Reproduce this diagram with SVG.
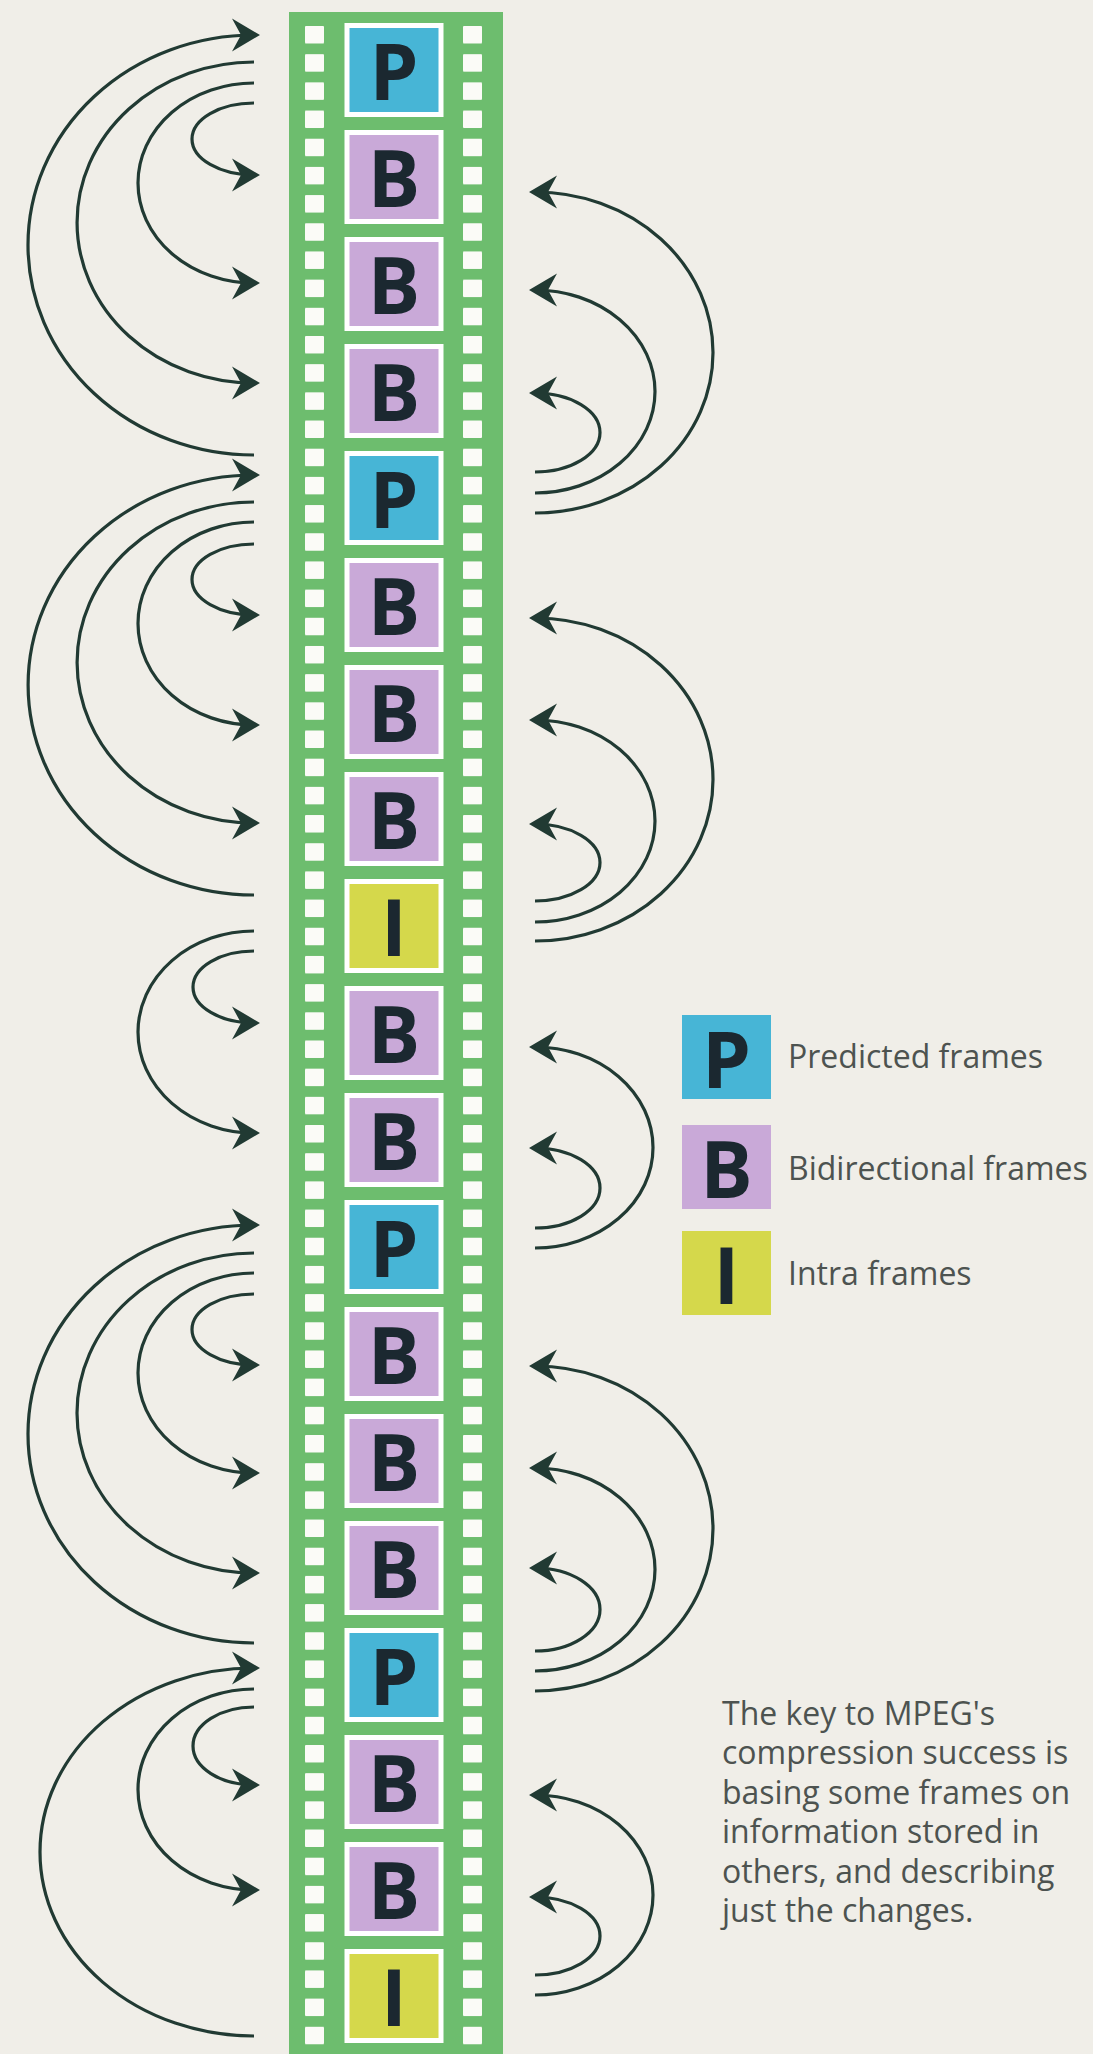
<svg xmlns="http://www.w3.org/2000/svg" width="1093" height="2054" viewBox="0 0 1093 2054">
<style>
.fr{stroke:#ffffff;stroke-width:5}
.p{fill:#47b5d6}
.b{fill:#c9a9d8}
.i{fill:#d5d84b}
.lt{font-family:'Open Sans','Liberation Sans',sans-serif;font-weight:700;font-size:78px;fill:#1b2830;text-anchor:middle}
.lg{font-family:'Open Sans','Liberation Sans',sans-serif;font-size:32px;fill:#4d5350}
.cap{font-family:'Open Sans','Liberation Sans',sans-serif;font-size:32px;fill:#4d5350}
.arc{fill:none;stroke:#213a33;stroke-width:3.2;marker-end:url(#ah)}
</style>
<defs>
<marker id="ah" markerUnits="userSpaceOnUse" markerWidth="40" markerHeight="40" viewBox="-35 -20 40 40" refX="-6" refY="0" orient="auto" overflow="visible">
<path d="M0,0 L-28,-16.5 L-19,0 L-28,16.5 Z" fill="#213a33"/>
</marker>
<pattern id="holes" patternUnits="userSpaceOnUse" x="0" y="26" width="1093" height="28.18">
<rect x="305" y="0" width="19" height="17.5" rx="1" fill="#fbfbf7"/>
<rect x="463" y="0" width="19" height="17.5" rx="1" fill="#fbfbf7"/>
</pattern>
</defs>
<rect x="0" y="0" width="1093" height="2054" fill="#f0eee8"/>
<g id="film-strip">
<rect x="289" y="12" width="214" height="2042" fill="#6dbd6e"/>
<rect x="289" y="26" width="214" height="2028" fill="url(#holes)"/>
</g>
<g id="frame-0"><rect class="fr p" x="347" y="25.5" width="94" height="89"/><text class="lt" x="394" y="100">P</text></g>
<g id="frame-1"><rect class="fr b" x="347" y="132.5" width="94" height="89"/><text class="lt" x="394" y="207">B</text></g>
<g id="frame-2"><rect class="fr b" x="347" y="239.5" width="94" height="89"/><text class="lt" x="394" y="314">B</text></g>
<g id="frame-3"><rect class="fr b" x="347" y="346.5" width="94" height="89"/><text class="lt" x="394" y="421">B</text></g>
<g id="frame-4"><rect class="fr p" x="347" y="453.5" width="94" height="89"/><text class="lt" x="394" y="528">P</text></g>
<g id="frame-5"><rect class="fr b" x="347" y="560.5" width="94" height="89"/><text class="lt" x="394" y="635">B</text></g>
<g id="frame-6"><rect class="fr b" x="347" y="667.5" width="94" height="89"/><text class="lt" x="394" y="742">B</text></g>
<g id="frame-7"><rect class="fr b" x="347" y="774.5" width="94" height="89"/><text class="lt" x="394" y="849">B</text></g>
<g id="frame-8"><rect class="fr i" x="347" y="881.5" width="94" height="89"/><text class="lt" x="394" y="956">I</text></g>
<g id="frame-9"><rect class="fr b" x="347" y="988.5" width="94" height="89"/><text class="lt" x="394" y="1063">B</text></g>
<g id="frame-10"><rect class="fr b" x="347" y="1095.5" width="94" height="89"/><text class="lt" x="394" y="1170">B</text></g>
<g id="frame-11"><rect class="fr p" x="347" y="1202.5" width="94" height="89"/><text class="lt" x="394" y="1277">P</text></g>
<g id="frame-12"><rect class="fr b" x="347" y="1309.5" width="94" height="89"/><text class="lt" x="394" y="1384">B</text></g>
<g id="frame-13"><rect class="fr b" x="347" y="1416.5" width="94" height="89"/><text class="lt" x="394" y="1491">B</text></g>
<g id="frame-14"><rect class="fr b" x="347" y="1523.5" width="94" height="89"/><text class="lt" x="394" y="1598">B</text></g>
<g id="frame-15"><rect class="fr p" x="347" y="1630.5" width="94" height="89"/><text class="lt" x="394" y="1705">P</text></g>
<g id="frame-16"><rect class="fr b" x="347" y="1737.5" width="94" height="89"/><text class="lt" x="394" y="1812">B</text></g>
<g id="frame-17"><rect class="fr b" x="347" y="1844.5" width="94" height="89"/><text class="lt" x="394" y="1919">B</text></g>
<g id="frame-18"><rect class="fr i" x="347" y="1951.5" width="94" height="89"/><text class="lt" x="394" y="2026">I</text></g>
<g id="connectors">
<path class="arc" d="M254,455 A226,210 0 0 1 254,35"/>
<path class="arc" d="M254,62 A177,160.5 0 0 0 254,383"/>
<path class="arc" d="M254,83 A116,100 0 0 0 254,283"/>
<path class="arc" d="M254,103 A62,36 0 0 0 254,175"/>
<path class="arc" d="M254,895 A226,210 0 0 1 254,475"/>
<path class="arc" d="M254,502 A177,160.5 0 0 0 254,823"/>
<path class="arc" d="M254,522 A116,101.5 0 0 0 254,725"/>
<path class="arc" d="M254,544 A62,35.5 0 0 0 254,615"/>
<path class="arc" d="M254,931 A116,101 0 0 0 254,1133"/>
<path class="arc" d="M254,951 A61,36 0 0 0 254,1023"/>
<path class="arc" d="M254,1643 A226,209 0 0 1 254,1225"/>
<path class="arc" d="M254,1253 A177,160 0 0 0 254,1573"/>
<path class="arc" d="M254,1273 A116,100 0 0 0 254,1473"/>
<path class="arc" d="M254,1294 A62,35.5 0 0 0 254,1365"/>
<path class="arc" d="M254,2036 A214,184 0 0 1 254,1668"/>
<path class="arc" d="M254,1689 A116,100.5 0 0 0 254,1890"/>
<path class="arc" d="M254,1707 A61,39 0 0 0 254,1785"/>
<path class="arc" d="M535,513 A178,160.5 0 0 0 535,192"/>
<path class="arc" d="M535,493 A120,101.5 0 0 0 535,290"/>
<path class="arc" d="M535,472 A65,39.5 0 0 0 535,393"/>
<path class="arc" d="M535,941 A178,161.5 0 0 0 535,618"/>
<path class="arc" d="M535,922 A120,101 0 0 0 535,720"/>
<path class="arc" d="M535,901 A65,38.5 0 0 0 535,824"/>
<path class="arc" d="M535,1248 A118,100.5 0 0 0 535,1047"/>
<path class="arc" d="M535,1228 A65,40 0 0 0 535,1148"/>
<path class="arc" d="M535,1691 A178,162.5 0 0 0 535,1366"/>
<path class="arc" d="M535,1671 A120,101.5 0 0 0 535,1468"/>
<path class="arc" d="M535,1651 A65,41.5 0 0 0 535,1568"/>
<path class="arc" d="M535,1995 A118,100 0 0 0 535,1795"/>
<path class="arc" d="M535,1975 A65,39 0 0 0 535,1897"/>
</g>
<g id="legend-p"><rect class="p" x="682" y="1015" width="89" height="84"/><text class="lt" x="726.5" y="1088">P</text><text class="lg" x="788" y="1068">Predicted frames</text></g>
<g id="legend-b"><rect class="b" x="682" y="1125" width="89" height="84"/><text class="lt" x="726.5" y="1198">B</text><text class="lg" x="788" y="1180">Bidirectional frames</text></g>
<g id="legend-i"><rect class="i" x="682" y="1231" width="89" height="84"/><text class="lt" x="726.5" y="1304">I</text><text class="lg" x="788" y="1285">Intra frames</text></g>
<g id="caption">
<text class="cap" x="722" y="1725">The key to MPEG's</text>
<text class="cap" x="722" y="1764.4">compression success is</text>
<text class="cap" x="722" y="1803.8">basing some frames on</text>
<text class="cap" x="722" y="1843.2">information stored in</text>
<text class="cap" x="722" y="1882.6">others, and describing</text>
<text class="cap" x="722" y="1922">just the changes.</text>
</g>
</svg>
